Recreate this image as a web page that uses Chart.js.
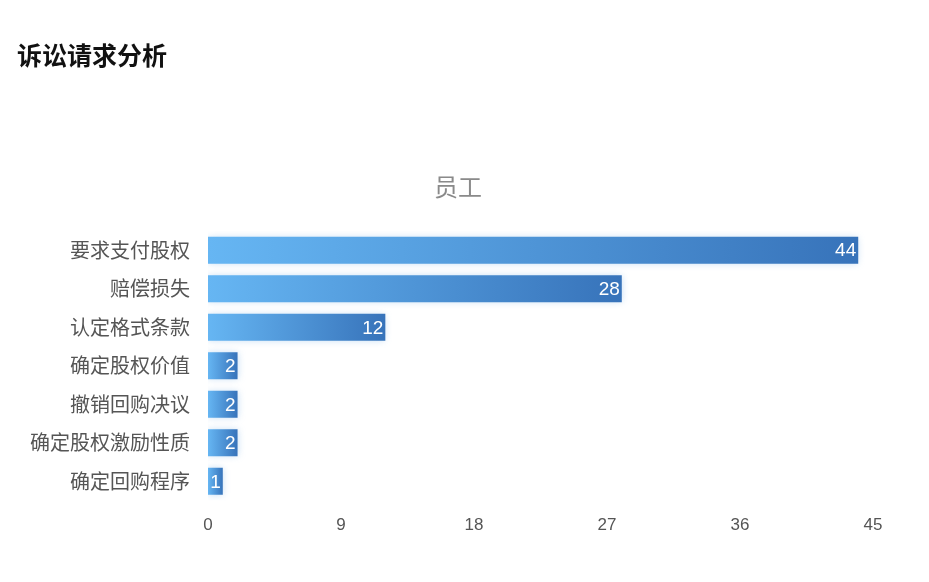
<!DOCTYPE html>
<html><head><meta charset="utf-8">
<script src="https://cdn.jsdelivr.net/npm/chart.js@4/dist/chart.umd.min.js"></script>
<style>html,body{margin:0;padding:0;background:#fff}#wrap{width:929px;height:582px}</style>
</head><body><div id="wrap"><canvas id="c"></canvas></div>
<script>
const mainTitle = '诉讼请求分析';
const seriesName = '员工';
const categories = ['要求支付股权','赔偿损失','认定格式条款','确定股权价值','撤销回购决议','确定股权激励性质','确定回购程序'];
const values = [44, 28, 12, 2, 2, 2, 1];
const xTicks = [0, 9, 18, 27, 36, 45];

const CJK = '"Noto Sans CJK SC", "Noto Sans", sans-serif';
const NUM = '"Liberation Sans", Roboto, sans-serif';

const titlesPlugin = {
  id: 'titles',
  afterDraw(chart) {
    const ctx = chart.ctx;
    ctx.save();
    ctx.textBaseline = 'middle';
    ctx.fillStyle = '#111';
    ctx.font = 'bold 25px ' + CJK;
    ctx.textAlign = 'left';
    ctx.fillText(mainTitle, 17, 55);
    ctx.fillStyle = '#8a8a8a';
    ctx.font = '24px ' + CJK;
    ctx.textAlign = 'center';
    ctx.fillText(seriesName, 458, 187);
    ctx.restore();
  }
};

const shadowPlugin = {
  id: 'barShadow',
  beforeDatasetsDraw(chart) {
    const ctx = chart.ctx; ctx.save();
    ctx.shadowColor = 'rgba(90,160,225,0.35)';
    ctx.shadowBlur = 7;
  },
  afterDatasetsDraw(chart) { chart.ctx.restore(); }
};

const labelPlugin = {
  id: 'barLabels',
  afterDatasetsDraw(chart) {
    const ctx = chart.ctx;
    const meta = chart.getDatasetMeta(0);
    ctx.save();
    ctx.fillStyle = '#ffffff';
    ctx.font = '19px ' + NUM;
    ctx.textAlign = 'right';
    ctx.textBaseline = 'middle';
    meta.data.forEach((bar, i) => {
      ctx.fillText(String(values[i]), bar.x - 2, bar.y + 1);
    });
    ctx.restore();
  }
};

new Chart(document.getElementById('c'), {
  type: 'bar',
  data: {
    labels: categories,
    datasets: [{
      label: seriesName,
      data: values,
      backgroundColor(ctx) {
        const chart = ctx.chart;
        const xs = chart.scales.x;
        if (!xs || ctx.parsed === undefined) return '#4a90d6';
        const x0 = xs.getPixelForValue(0);
        const x1 = xs.getPixelForValue(ctx.parsed.x);
        if (!isFinite(x0) || !isFinite(x1) || x1 - x0 < 1) return '#4a90d6';
        const g = chart.ctx.createLinearGradient(x0, 0, x1, 0);
        g.addColorStop(0, '#66b6f3');
        g.addColorStop(1, '#3773ba');
        return g;
      },
      borderWidth: 0,
      categoryPercentage: 1,
      barPercentage: 0.7
    }]
  },
  options: {
    indexAxis: 'y',
    responsive: true,
    maintainAspectRatio: false,
    animation: false,
    devicePixelRatio: 1,
    layout: { padding: { left: 18, right: 56, top: 231, bottom: 39 } },
    plugins: {
      legend: { display: false },
      tooltip: { enabled: false },
      title: { display: false }
    },
    scales: {
      x: {
        min: 0, max: 45,
        afterBuildTicks(s) { s.ticks = xTicks.map(v => ({ value: v })); },
        grid: { display: false }, border: { display: false },
        ticks: { color: '#555', font: { family: NUM, size: 17 }, padding: 7 }
      },
      y: {
        grid: { display: false }, border: { display: false },
        afterFit(s) { s.width = 190; },
        ticks: { color: '#555', font: { family: CJK, size: 20 }, padding: 10 }
      }
    }
  },
  plugins: [shadowPlugin, labelPlugin, titlesPlugin]
});
</script></body></html>
